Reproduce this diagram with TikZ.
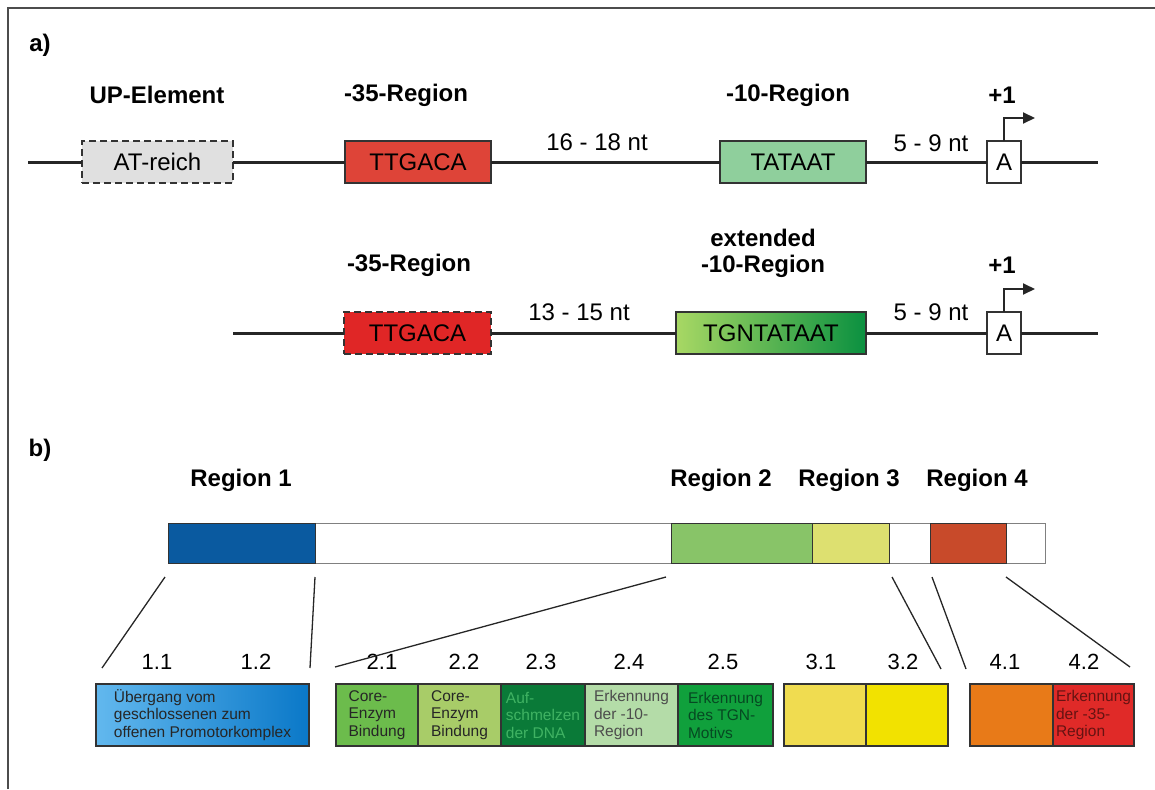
\documentclass[tikz,border=0pt]{standalone}
\usepackage{fontspec}
\setmainfont{Liberation Sans}
\usetikzlibrary{arrows.meta,calc}
\definecolor{UPGrey}{HTML}{E0E0E0}
\definecolor{TTRed}{HTML}{DE4438}
\definecolor{TTRedB}{HTML}{E02626}
\definecolor{TAGreen}{HTML}{8FCF9C}
\definecolor{ExtLight}{HTML}{A8D864}
\definecolor{ExtDark}{HTML}{0A9040}
\definecolor{ROne}{HTML}{0A5AA0}
\definecolor{RTwo}{HTML}{88C468}
\definecolor{RThree}{HTML}{DDE070}
\definecolor{RFour}{HTML}{C84A2A}
\definecolor{BlueLight}{HTML}{62B8EE}
\definecolor{BlueDark}{HTML}{0A78C8}
\definecolor{SubA}{HTML}{6CBC4C}
\definecolor{SubB}{HTML}{A8CC68}
\definecolor{SubC}{HTML}{0A7A38}
\definecolor{SubD}{HTML}{B4DCA8}
\definecolor{SubE}{HTML}{10A03C}
\definecolor{SubF}{HTML}{F0DC50}
\definecolor{SubG}{HTML}{F2E200}
\definecolor{SubH}{HTML}{E87A18}
\definecolor{SubI}{HTML}{E02A28}
\tikzset{
    dna/.style = {line width=3pt, black!85},
    box/.style = {draw=black!80, line width=1.2pt, rectangle, inner sep=0pt, outer sep=0pt,
        minimum height=42pt,
        font=\fontsize{24}{26}\selectfont},
    dashbox/.style = {box, dash pattern=on 7pt off 4pt},
    lab/.style = {font=\bfseries\fontsize{24}{26}\selectfont, align=center},
    gap/.style = {font=\fontsize{24}{26}\selectfont},
    seg/.style = {draw=black!80, line width=1pt, rectangle, inner sep=0pt, outer sep=0pt,
        minimum height=40pt, anchor=west},
    sub/.style = {draw=black!80, line width=1.2pt, rectangle, inner sep=0pt, outer sep=0pt,
        minimum height=62pt, align=left, text=black!85,
        font=\fontsize{15.5}{17.5}\selectfont},
    num/.style = {font=\fontsize{22}{24}\selectfont},
    zoomline/.style = {line width=1.3pt, black!85},
    tss/.style = {line width=1.8pt, black!85, -{Triangle[length=12pt,width=11pt]}}
}
\begin{document}
\begin{tikzpicture}[x=1pt,y=-1pt]
        \useasboundingbox (0,0) rectangle (1155,789);
        \draw[gray!60!black,line width=1.5pt] (8,789) -- (8,8) -- (1155,8);
        % a) promoter elements
        \node [lab] (pa) at (40,45) {a)};
        \coordinate (l1) at (28,162);
        \coordinate (r1) at (1098,162);
        \node [dashbox,fill=UPGrey,minimum width=151pt] (up) at (157.5,162) {AT-reich};
        \node [box,fill=TTRed,minimum width=146pt] (m35) at (418,162) {TTGACA};
        \node [box,fill=TAGreen,minimum width=146pt] (m10) at (793,162) {TATAAT};
        \node [box,fill=white,minimum width=34pt] (tssa) at (1004,162) {A};
        \draw [dna] (l1) -- (up) -- (m35) -- (m10) -- (tssa) -- (r1);
        \draw [tss] (tssa.north) -- ++(0,-23) -- ++(31,0);
        \node [lab] (lup) at (157,95) {UP-Element};
        \node [lab] (l35a) at (406,95) {-35-Region};
        \node [lab] (l10a) at (788,95) {-10-Region};
        \node [lab] (p1a) at (1002,95) {+1};
        \node [gap] (ga) at (597,142) {16 - 18 nt};
        \node [gap] (gb) at (931,143) {5 - 9 nt};
        % extended -10
        \coordinate (l2) at (233,333);
        \coordinate (r2) at (1098,333);
        \node [dashbox,fill=TTRedB,minimum width=147pt] (m35b) at (417.5,333) {TTGACA};
        \node [box,left color=ExtLight,right color=ExtDark,minimum width=190pt] (ext) at (771,333) {TGNTATAAT};
        \node [box,fill=white,minimum width=34pt] (tssb) at (1004,333) {A};
        \draw [dna] (l2) -- (m35b) -- (ext) -- (tssb) -- (r2);
        \draw [tss] (tssb.north) -- ++(0,-23) -- ++(31,0);
        \node [lab] (l35b) at (409,265) {-35-Region};
        \node [lab] (l10b) at (763,253) {extended\\-10-Region};
        \node [lab] (p1b) at (1002,265) {+1};
        \node [gap] (gc) at (579,312) {13 - 15 nt};
        \node [gap] (gd) at (931,312) {5 - 9 nt};
        % b) sigma factor regions
        \node [lab] (pb) at (40,450) {b)};
        \node [lab] (rg1) at (241,480) {Region 1};
        \node [lab] (rg2) at (721,480) {Region 2};
        \node [lab] (rg3) at (849,480) {Region 3};
        \node [lab] (rg4) at (977,480) {Region 4};
        \node [seg,draw=gray,minimum width=877pt] (bar) at (168,543) {};
        \node [seg,fill=ROne,minimum width=147pt] (b1) at (168,543) {};
        \node [seg,fill=RTwo,minimum width=141pt] (b2) at (671,543) {};
        \node [seg,fill=RThree,minimum width=77pt] (b3) at (812,543) {};
        \node [seg,fill=RFour,minimum width=76pt] (b4) at (930,543) {};
        \node [sub,left color=BlueLight,right color=BlueDark,minimum width=213pt] (s1) at (202.5,715) {Übergang vom\\geschlossenen zum\\offenen Promotorkomplex};
        \node [sub,fill=SubA,minimum width=82pt] (s21) at (377,715) {Core-\\Enzym\\Bindung};
        \node [sub,fill=SubB,minimum width=83pt] (s22) at (459.5,715) {Core-\\Enzym\\Bindung};
        \node [sub,fill=SubC,minimum width=84pt,text=SubE!80!white] (s23) at (543,715) {Auf-\\schmelzen\\der DNA};
        \node [sub,fill=SubD,minimum width=93pt,text=black!70] (s24) at (631.5,715) {Erkennung\\der -10-\\Region};
        \node [sub,fill=SubE,minimum width=95pt,text=SubC!60!black] (s25) at (725.5,715) {Erkennung\\des TGN-\\Motivs};
        \node [sub,fill=SubF,minimum width=82pt] (s31) at (825,715) {};
        \node [sub,fill=SubG,minimum width=82pt] (s32) at (907,715) {};
        \node [sub,fill=SubH,minimum width=83pt] (s41) at (1011.5,715) {};
        \node [sub,fill=SubI,minimum width=81pt,text=SubI!45!black] (s42) at (1093.5,715) {Erkennung\\der -35-\\Region};
        \node [num] (n11) at (157,662) {1.1};
        \node [num] (n12) at (256,662) {1.2};
        \node [num] (n21) at (382,662) {2.1};
        \node [num] (n22) at (464,662) {2.2};
        \node [num] (n23) at (541,662) {2.3};
        \node [num] (n24) at (629,662) {2.4};
        \node [num] (n25) at (723,662) {2.5};
        \node [num] (n31) at (821,662) {3.1};
        \node [num] (n32) at (903,662) {3.2};
        \node [num] (n41) at (1005,662) {4.1};
        \node [num] (n42) at (1084,662) {4.2};
        % zoom lines
        \coordinate (za) at (165,577);  \coordinate (zA) at (102,668);
        \coordinate (zb) at (315,577);  \coordinate (zB) at (310,668);
        \coordinate (zc) at (666,577);  \coordinate (zC) at (335,667);
        \coordinate (zd) at (892,577);  \coordinate (zD) at (941,669);
        \coordinate (ze) at (932,577);  \coordinate (zE) at (966,669);
        \coordinate (zf) at (1006,577); \coordinate (zF) at (1130,667);
        \foreach \s/\t in {za/zA,zb/zB,zc/zC,zd/zD,ze/zE,zf/zF}
            \draw [zoomline] (\s) -- (\t);
%        \draw[help lines] (0,0) grid[step=50] (1155,789);
    \end{tikzpicture}
\end{document}
